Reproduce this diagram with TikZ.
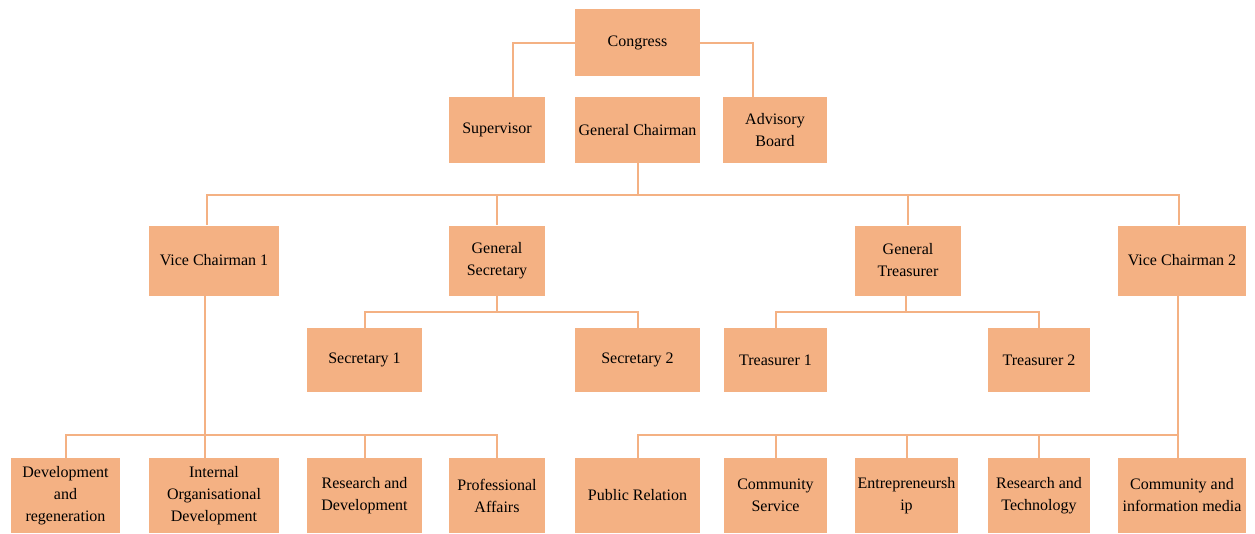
\documentclass[tikz,border=0pt]{standalone}
\usepackage{fontspec}
\setmainfont{Liberation Serif}
\usetikzlibrary{calc}

\definecolor{boxfill}{HTML}{F4B183}
\definecolor{linkcol}{HTML}{F4B183}

\tikzset{
	box/.style={fill=boxfill, inner sep=0pt, align=center, text=black,
		font=\fontsize{12}{16.5}\selectfont},
	sz/.style 2 args={minimum width=#1*0.75pt, minimum height=#2*0.75pt},
	link/.style={draw=linkcol, line width=1.5pt}
}

\begin{document}
\begin{tikzpicture}[x=0.75pt,y=-0.75pt]

	\useasboundingbox (0,0) rectangle (1255,533);

	% Vertice
	\node[box,sz={125}{67}] (congress) at (637.5,42.5) {Congress};
	\node[box,sz={96}{66}] (super) at (497,130) {Supervisor};
	\node[box,sz={125}{66}] (chair) at (637.5,130) {General Chairman};
	\node[box,sz={104}{66}] (advis) at (775,130) {Advisory\\Board};

	% Secondo livello
	\node[box,sz={130}{70}] (vc1) at (214,260.5) {Vice Chairman 1};
	\node[box,sz={96}{70}] (gsec) at (497,260.5) {General\\Secretary};
	\node[box,sz={106}{70}] (gtre) at (908,260.5) {General\\Treasurer};
	\node[box,sz={128}{70}] (vc2) at (1182,260.5) {Vice Chairman 2};

	% Segretari e tesorieri
	\node[box,sz={115}{64}] (sec1) at (364.5,360) {Secretary 1};
	\node[box,sz={125}{64}] (sec2) at (637.5,360) {Secretary 2};
	\node[box,sz={103}{64}] (tre1) at (775.5,360) {Treasurer 1};
	\node[box,sz={102}{64}] (tre2) at (1039,360) {Treasurer 2};

	% Divisioni in basso
	\foreach \nm/\x/\w/\txt in {
		dev/65.5/109/{Development\\and\\regeneration},
		iod/214/130/{Internal\\Organisational\\Development},
		rnd/364.5/115/{Research and\\Development},
		prof/497/96/{Professional\\Affairs},
		pr/637.5/125/{Public Relation},
		cs/775.5/103/{Community\\Service},
		ent/906.5/103/{Entrepreneursh\\ip},
		rt/1039/102/{Research and\\Technology},
		cim/1182/128/{Community and\\information media}}
		\node[box,sz={\w}{75}] (\nm) at (\x,495.5) {\txt};

	% Collegamenti dal congresso
	\draw[link] (congress.west) -| ($(super.north)+(16,0)$);
	\draw[link] (congress.east) -| ($(advis.north)+(-22,0)$);

	% Linea sotto il presidente
	\coordinate (bus1) at ($(chair.south)+(0,32)$);
	\draw[link] (chair.south) -- (bus1);
	\draw[link] ($(vc1.north)+(-7,0)$) |- (bus1) -| ($(vc2.north)+(-3,0)$);
	\draw[link] (gsec.north) -- (gsec.north |- bus1);
	\draw[link] (gtre.north) -- (gtre.north |- bus1);

	% Segretari
	\coordinate (bus2) at ($(gsec.south)+(0,16)$);
	\draw[link] (gsec.south) -- (bus2);
	\draw[link] (sec1.north) |- (bus2) -| (sec2.north);

	% Tesorieri
	\coordinate (bus3) at ($(gtre.south)+(-2,16)$);
	\draw[link] ($(gtre.south)+(-2,0)$) -- (bus3);
	\draw[link] (tre1.north) |- (bus3) -| (tre2.north);

	% Divisioni del vice presidente 1
	\coordinate (bus4) at ($(vc1.south)+(-9,139.5)$);
	\draw[link] ($(vc1.south)+(-9,0)$) -- (bus4) -- (bus4 |- iod.north);
	\draw[link] (dev.north) |- (bus4) -| (prof.north);
	\draw[link] (rnd.north) -- (rnd.north |- bus4);

	% Divisioni del vice presidente 2
	\coordinate (bus5) at ($(vc2.south)+(-4,139.5)$);
	\draw[link] ($(vc2.south)+(-4,0)$) -- (bus5) -- (bus5 |- cim.north);
	\draw[link] (pr.north) |- (bus5);
	\foreach \nm in {cs,ent,rt}
		\draw[link] (\nm.north) -- (\nm.north |- bus5);

\end{tikzpicture}
\end{document}
